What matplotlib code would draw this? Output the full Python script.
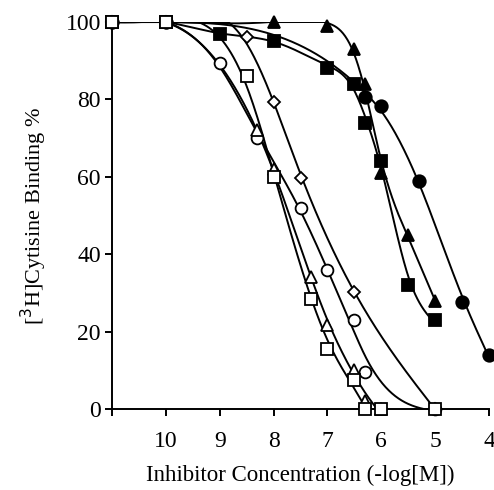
import numpy as np
import matplotlib
matplotlib.use("Agg")
from matplotlib import pyplot as plt

plt.rcParams['font.family'] = ['Liberation Serif', 'DejaVu Serif']

# -log[M] values and % binding (11 = control)
tri_f_x = [11, 10, 8, 7, 6.5, 6.3, 6, 5.5, 5]
tri_f_y = [100, 100, 100, 99, 93, 84, 61, 45, 28]

sq_f_x = [11, 10, 9, 8, 7, 6.5, 6.3, 6, 5.5, 5]
sq_f_y = [100, 100, 97, 95, 88, 84, 74, 64, 32, 23]

circ_f_x = [11, 10, 6.3, 6, 5.3, 4.5, 4]
circ_f_y = [100, 100, 80.6, 78.3, 59, 27.6, 14]

dia_x = [11, 10, 8.5, 8, 7.5, 6.5, 5]
dia_y = [100, 100, 96, 79.4, 59.6, 30.2, 0]

circ_o_x = [11, 10, 9, 8.3, 7.5, 7, 6.5, 6.3, 5]
circ_o_y = [100, 100, 89.4, 70, 52, 36, 23, 9.6, 0]

tri_o_x = [11, 10, 8.3, 8, 7.3, 7, 6.5, 6.3, 6]
tri_o_y = [100, 100, 72, 62, 34, 21.7, 10, 2, 0]

sq_o_x = [11, 10, 8.5, 8, 7.3, 7, 6.5, 6.3]
sq_o_y = [100, 100, 86, 60, 28.4, 15.5, 7.5, 0]

# extra open squares sitting on the axis
sq_end_x = [6, 5]
sq_end_y = [0, 0]

x_ticks = [11, 10, 9, 8, 7, 6, 5, 4]
x_labels = ['', '10', '9', '8', '7', '6', '5', '4']
y_ticks = [0, 20, 40, 60, 80, 100]


def smooth(sx, sy, mu=0.02, h=0.01):
    # smoothing spline on a fine grid (penalised second differences)
    x = np.asarray(sx, float)
    y = np.asarray(sy, float)
    xs = np.arange(x.min(), x.max() + h / 2, h)
    n = len(xs)
    idx = np.round((x - xs[0]) / h).astype(int)
    w = np.zeros(n)
    z = np.zeros(n)
    w[idx] += 1
    z[idx] += y
    d = np.diff(np.eye(n), 2, axis=0)
    lam = mu / h ** 3
    fit = np.linalg.solve(np.diag(w) + lam * d.T @ d, z)
    return xs, np.minimum(fit, 100)


fig = plt.figure(figsize=(4.94, 4.90), dpi=100)
ax = fig.add_axes([0.2267, 0.1653, 0.7632, 0.7898])

# x, y, marker, face colour, marker size, smoothing
series = [
    (circ_f_x, circ_f_y, 'o', 'black', 9, 0.02),
    (tri_f_x, tri_f_y, '^', 'black', 9, 0.004),
    (sq_f_x, sq_f_y, 's', 'black', 8, 0.004),
    (dia_x, dia_y, 'D', 'white', 6, 0.02),
    (circ_o_x, circ_o_y, 'o', 'white', 8.5, 0.02),
    (tri_o_x, tri_o_y, '^', 'white', 8.5, 0.02),
    (sq_o_x, sq_o_y, 's', 'white', 8, 0.02),
]

for sx, sy, m, fc, ms, mu in series:
    xs, ys = smooth(sx, sy, mu)
    ax.plot(xs, ys, color='black', lw=1.4, zorder=2)

for sx, sy, m, fc, ms, mu in series + [(sq_end_x, sq_end_y, 's', 'white', 8, 0)]:
    ax.plot(sx, sy, linestyle='none', marker=m, markersize=ms,
            markerfacecolor=fc, markeredgecolor='black', markeredgewidth=1.3,
            zorder=3, clip_on=False)

ax.set_xlim(11, 4)
ax.set_ylim(0, 100)
ax.set_xticks(x_ticks)
ax.set_xticklabels(x_labels)
ax.set_yticks(y_ticks)
ax.spines['top'].set_visible(False)
ax.spines['right'].set_visible(False)
ax.spines['left'].set_linewidth(1.4)
ax.spines['bottom'].set_linewidth(1.4)
ax.tick_params(direction='out', length=5, width=1.4, labelsize=17)
ax.tick_params(axis='x', pad=11)
ax.tick_params(axis='y', pad=3)

ax.set_xlabel('Inhibitor Concentration (-log[M])', fontsize=16.5, labelpad=9)
ax.set_ylabel('[$^3$H]Cytisine Binding %', fontsize=16, labelpad=12)

fig.savefig('out.png', dpi=100)
